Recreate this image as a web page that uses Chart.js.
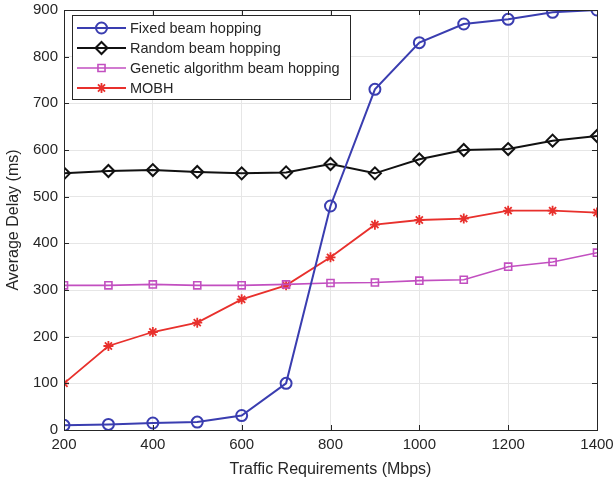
<!DOCTYPE html>
<html><head><meta charset="utf-8">
<script src="https://cdn.jsdelivr.net/npm/chart.js@4/dist/chart.umd.min.js"></script>
<style>html,body{margin:0;padding:0;background:#fff}#wrap{width:616px;height:483px}</style>
</head><body><div id="wrap"><canvas id="c" width="616" height="483"></canvas></div>
<script>
const traffic = [200,300,400,500,600,700,800,900,1000,1100,1200,1300,1400];
const fixedBH = [10,12,15,17,31,100,480,730,830,870,880,895,900];
const randomBH = [550,555,557,553,550,552,570,550,580,600,602,620,630];
const geneticBH = [310,310,312,310,310,312,315,316,320,322,350,360,380];
const mobh = [100,180,210,230,280,310,370,440,450,453,470,470,466];
const seriesNames = ["Fixed beam hopping","Random beam hopping","Genetic algorithm beam hopping","MOBH"];
const xTicks = [200,400,600,800,1000,1200,1400];
const yTicks = [0,100,200,300,400,500,600,700,800,900];

const FONT = "'Liberation Sans', Arial, Helvetica, sans-serif";
const pts = arr => arr.map((v,i)=>({x:traffic[i], y:v}));

const boxPlugin = {
  id:'box',
  afterDraw(chart){
    const {ctx, chartArea:a, scales} = chart;
    ctx.save();
    ctx.strokeStyle = '#262626'; ctx.lineWidth = 1;
    ctx.strokeRect(a.left+0.5, a.top+0.5, a.right-a.left, a.bottom-a.top);
    const L = 5;
    ctx.beginPath();
    xTicks.forEach(t=>{ const x = Math.round(scales.x.getPixelForValue(t))+0.5;
      ctx.moveTo(x,a.bottom); ctx.lineTo(x,a.bottom-L);
      ctx.moveTo(x,a.top); ctx.lineTo(x,a.top+L); });
    yTicks.forEach(t=>{ const y = Math.round(scales.y.getPixelForValue(t))+0.5;
      ctx.moveTo(a.left,y); ctx.lineTo(a.left+L,y);
      ctx.moveTo(a.right,y); ctx.lineTo(a.right-L,y); });
    ctx.stroke();
    // legend
    const lx = a.left+8, ly = a.top+5, lw = 278, lh = 84;
    ctx.fillStyle = '#fff'; ctx.fillRect(lx, ly, lw, lh);
    ctx.strokeStyle = '#262626'; ctx.strokeRect(lx+0.5, ly+0.5, lw, lh);
    chart.data.datasets.forEach((ds,i)=>{
      const y = ly + 13 + i*20;
      ctx.strokeStyle = ds.borderColor; ctx.lineWidth = ds.borderWidth;
      ctx.beginPath(); ctx.moveTo(lx+5,y); ctx.lineTo(lx+54,y); ctx.stroke();
      ctx.fillStyle = 'rgba(0,0,0,0)'; ctx.strokeStyle = ds.borderColor; ctx.lineWidth = ds.pointBorderWidth;
      Chart.helpers.drawPoint(ctx, {pointStyle: ds.pointStyle, radius: ds.pointRadius, borderWidth: ds.pointBorderWidth, rotation:0}, lx+29.5, y);
      ctx.fillStyle = '#262626'; ctx.font = '14.5px '+FONT; ctx.textBaseline='middle'; ctx.textAlign='left';
      ctx.fillText(ds.label, lx+58, y+1);
    });
    ctx.restore();
  }
};

function ds(label, data, color, style, r, lw){
  return {label, data: pts(data), borderColor: color, backgroundColor: 'rgba(0,0,0,0)',
    pointStyle: style, pointRadius: r, pointHoverRadius: r, pointBorderWidth: lw, borderWidth: lw,
    pointBackgroundColor:'rgba(0,0,0,0)', pointBorderColor: color, tension:0};
}

new Chart(document.getElementById('c'), {
  type:'line',
  data:{datasets:[
    ds(seriesNames[0], fixedBH, '#3a3db0', 'circle', 5.5, 2),
    ds(seriesNames[1], randomBH, '#111111', 'rectRot', 6, 2),
    ds(seriesNames[2], geneticBH, '#c24fc0', 'rect', 5, 1.6),
    ds(seriesNames[3], mobh, '#e8302c', 'star', 5, 1.8)
  ]},
  options:{
    responsive:false, animation:false, devicePixelRatio:1,
    layout:{padding:{top:10,right:19,left:0,bottom:0}},
    plugins:{legend:{display:false}, tooltip:{enabled:false}},
    scales:{
      x:{type:'linear', min:200, max:1400,
        afterBuildTicks(s){ s.ticks = xTicks.map(v=>({value:v})); },
        afterFit(s){ s.height = 53; s.paddingLeft = 0; s.paddingRight = 0; },
        grid:{color:'#e6e6e6', drawTicks:false, lineWidth:1},
        border:{display:false},
        ticks:{color:'#262626', font:{size:15, family:FONT}, padding:6, maxRotation:0, callback:v=>String(v)},
        title:{display:true, text:'Traffic Requirements (Mbps)', color:'#262626', font:{size:16, family:FONT}, padding:{top:2}}
      },
      y:{min:0, max:900,
        afterBuildTicks(s){ s.ticks = yTicks.map(v=>({value:v})); },
        afterFit(s){ s.width = 64; s.paddingTop = 0; s.paddingBottom = 0; },
        grid:{color:'#e6e6e6', drawTicks:false, lineWidth:1},
        border:{display:false},
        ticks:{color:'#262626', font:{size:15, family:FONT}, padding:6, callback:v=>String(v)},
        title:{display:true, text:'Average Delay (ms)', color:'#262626', font:{size:16, family:FONT}, padding:{bottom:6}}
      }
    }
  },
  plugins:[boxPlugin]
});
</script></body></html>
